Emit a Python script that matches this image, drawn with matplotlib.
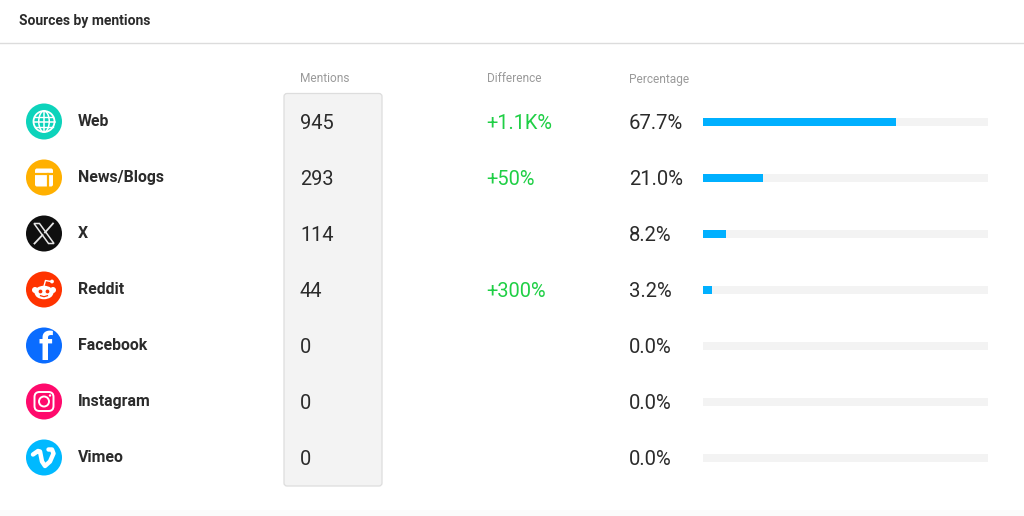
from matplotlib import pyplot as plt
from matplotlib.patches import Circle, Ellipse, FancyBboxPatch, Rectangle, Polygon
import numpy as np

plt.rcParams['font.family'] = ['Roboto', 'DejaVu Sans']

##### Data
Sources = ['Web', 'News/Blogs', 'X', 'Reddit', 'Facebook', 'Instagram', 'Vimeo']
Mentions = [945, 293, 114, 44, 0, 0, 0]
Difference = ['+1.1K%', '+50%', '', '+300%', '', '', '']
Percentage = [67.7, 21.0, 8.2, 3.2, 0.0, 0.0, 0.0]
Icon_Colors = ['#0dd3bb', '#ffb000', '#0f0f0f', '#ff3300', '#0a6cff', '#ff0a6c', '#00b9ff']
Headers = ['Mentions', 'Difference', 'Percentage']
Title = 'Sources by mentions'

Row_Y = 121 + 56 * np.arange(len(Sources))
TEXT = '#2b2b2b'
GREY = '#9a9a9a'
GREEN = '#1fcf45'
BLUE = '#00b0ff'
TRACK = '#f3f3f3'

##### Canvas in pixels of the 1024x516 image
fig = plt.figure(figsize=(10.24, 5.16), dpi=100)
ax = fig.add_axes([0, 0, 1, 1])
ax.set_xlim(0, 1024)
ax.set_ylim(516, 0)
ax.axis('off')

ax.text(19, 20.5, Title, fontsize=10, fontweight='bold', color=TEXT, va='center')
ax.plot([0, 1024], [43, 43], color='#dcdcdc', lw=1)
ax.add_patch(Rectangle((0, 510), 1024, 6, color='#fbfbfb', lw=0))

ax.add_patch(FancyBboxPatch((286, 95.5), 94, 388.5, boxstyle='round,pad=2,rounding_size=3',
                            fc='#f3f3f3', ec='#dddddd', lw=0.9))

for x, h in zip([300, 487.5, 629], Headers):
    ax.text(x, 79, h, fontsize=8.6, color=GREY, va='center')


##### Icons
def draw_web(cx, cy):
    ax.add_patch(Circle((cx, cy), 10.5, fc='none', ec='white', lw=1.3))
    ax.add_patch(Ellipse((cx, cy), 10.5, 21, fc='none', ec='white', lw=1.1))
    ax.plot([cx, cx], [cy - 10.5, cy + 10.5], color='white', lw=1.1)
    ax.plot([cx - 10.5, cx + 10.5], [cy, cy], color='white', lw=1.1)
    ax.plot([cx - 9, cx + 9], [cy - 5, cy - 5], color='white', lw=1.0)
    ax.plot([cx - 9, cx + 9], [cy + 5, cy + 5], color='white', lw=1.0)


def draw_news(cx, cy):
    ax.add_patch(FancyBboxPatch((cx - 8, cy - 8), 16, 16, boxstyle='round,pad=1,rounding_size=2',
                                fc='white', ec='none'))
    ax.plot([cx - 9, cx + 9], [cy - 3.5, cy - 3.5], color='#ffb000', lw=1.6)
    ax.plot([cx + 3.5, cx + 3.5], [cy - 3.5, cy + 9], color='#ffb000', lw=1.6)


def draw_x(cx, cy):
    ax.add_patch(Polygon([(cx - 10, cy - 10), (cx - 4.5, cy - 10), (cx + 10, cy + 10), (cx + 4.5, cy + 10)],
                         closed=True, fc='none', ec='#e6e6e6', lw=1.1))
    ax.plot([cx + 9, cx + 1], [cy - 10, cy - 1], color='#e6e6e6', lw=1.3)
    ax.plot([cx - 1.5, cx - 9.5], [cy + 1.5, cy + 10], color='#e6e6e6', lw=1.3)


def draw_reddit(cx, cy):
    ax.add_patch(Circle((cx - 9, cy + 0.5), 3, fc='white', ec='none'))
    ax.add_patch(Circle((cx + 9, cy + 0.5), 3, fc='white', ec='none'))
    ax.add_patch(Ellipse((cx, cy + 3), 19, 13.5, fc='white', ec='none'))
    ax.add_patch(Circle((cx - 3.5, cy + 2), 1.9, fc='#ff3300', ec='none'))
    ax.add_patch(Circle((cx + 3.5, cy + 2), 1.9, fc='#ff3300', ec='none'))
    ax.plot([cx - 3.5, cx, cx + 3.5], [cy + 6.2, cy + 7.2, cy + 6.2], color='#ff3300', lw=0.9)
    ax.plot([cx, cx + 1.5, cx + 7], [cy - 3.5, cy - 9, cy - 8], color='white', lw=1.0)
    ax.add_patch(Circle((cx + 8, cy - 8), 1.9, fc='white', ec='none'))


def draw_facebook(cx, cy):
    t = ax.text(cx + 1.5, cy + 4, 'f', fontsize=28, fontweight='bold', color='white',
                ha='center', va='center')
    t.set_clip_path(Circle((cx, cy), 18, transform=ax.transData))


def draw_instagram(cx, cy):
    ax.add_patch(FancyBboxPatch((cx - 8.5, cy - 8.5), 17, 17, boxstyle='round,pad=1,rounding_size=5',
                                fc='none', ec='white', lw=1.4))
    ax.add_patch(Circle((cx, cy), 5, fc='none', ec='white', lw=1.4))
    ax.add_patch(Circle((cx + 6, cy - 6), 1.2, fc='white', ec='none'))


def draw_vimeo(cx, cy):
    ax.plot([cx - 11, cx - 6, cx - 4, cx - 2, cx + 1, cx + 6, cx + 9.5, cx + 8, cx + 4.5],
            [cy - 3, cy - 6.5, cy - 6, cy + 4, cy + 8.5, cy + 4, cy - 4, cy - 8, cy - 8],
            color='white', lw=3.2, solid_capstyle='round', solid_joinstyle='round')


Icon_Draw = [draw_web, draw_news, draw_x, draw_reddit, draw_facebook, draw_instagram, draw_vimeo]

##### Rows
for i, y in enumerate(Row_Y):
    icon_y = y + 0.5
    ax.add_patch(Circle((44, icon_y), 18, fc=Icon_Colors[i], ec='none'))
    Icon_Draw[i](44, icon_y)
    ax.text(78, y + 0.5, Sources[i], fontsize=11.4, fontweight='bold', color=TEXT, va='center')
    ax.text(300, y + 2.5, str(Mentions[i]), fontsize=14.4, color=TEXT, va='center')
    if Difference[i]:
        ax.text(486.5, y + 2.5, Difference[i], fontsize=14.4, color=GREEN, va='center')
    ax.text(629, y + 2.5, '{:.1f}%'.format(Percentage[i]), fontsize=14.6, color=TEXT, va='center')

##### Percentage bars, in their own axes on a 0-100 scale
bar_ax = fig.add_axes([703 / 1024, 0, 285 / 1024, 1])
bar_ax.set_xlim(0, 100)
bar_ax.set_ylim(516, 0)
bar_ax.axis('off')
bar_ax.patch.set_alpha(0)
bar_ax.barh(Row_Y + 0.5, [100] * len(Sources), height=8, color=TRACK)
bar_ax.barh(Row_Y + 0.5, Percentage, height=8, color=BLUE)

plt.savefig('out.png', dpi=100)
